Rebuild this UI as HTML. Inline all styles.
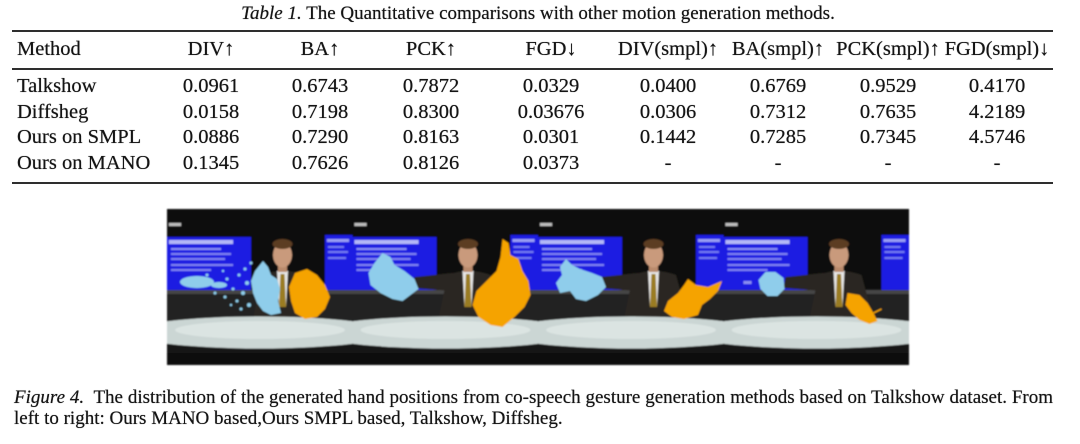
<!DOCTYPE html>
<html><head><meta charset="utf-8">
<style>
html,body{margin:0;padding:0;background:#fff;}
body{width:1080px;height:444px;overflow:hidden;position:relative;font-family:"Liberation Serif","DejaVu Serif",serif;color:#141414;}
.t{position:absolute;white-space:nowrap;}
.title{left:0;width:1076px;top:3px;text-align:center;font-size:19px;line-height:22px;text-shadow:0 0 0.6px #333;}
.rule{position:absolute;left:12px;width:1041px;background:#2e2e2e;}
.row{position:absolute;left:0;width:1080px;height:26px;font-size:20.5px;line-height:26px;text-shadow:0 0 0.6px #333;}
.row span{position:absolute;top:0;width:130px;text-align:center;white-space:nowrap;}
.row span.m{left:17px;width:200px;text-align:left;}
.c1{left:146px}.c2{left:255px}.c3{left:366px}.c4{left:486px}
.c5{left:603px}.c6{left:713px}.c7{left:823px}.c8{left:932px}
.cap{position:absolute;left:14px;width:1039px;font-size:19px;line-height:21px;white-space:nowrap;text-shadow:0 0 0.6px #333;}
.l1{top:387px;text-align:justify;text-align-last:justify;}
.l2{top:408px;}
svg{position:absolute;left:0;top:0;}
</style></head><body>
<div class="t title"><i>Table 1.</i> The Quantitative comparisons with other motion generation methods.</div>
<div class="rule" style="top:30px;height:2px;"></div>
<div class="row" style="top:36px;"><span class="m">Method</span><span class="c1">DIV↑</span><span class="c2">BA↑</span><span class="c3">PCK↑</span><span class="c4">FGD↓</span><span class="c5">DIV(smpl)↑</span><span class="c6">BA(smpl)↑</span><span class="c7">PCK(smpl)↑</span><span class="c8">FGD(smpl)↓</span></div>
<div class="rule" style="top:68px;height:1.5px;"></div>
<div class="row" style="top:73px;"><span class="m">Talkshow</span><span class="c1">0.0961</span><span class="c2">0.6743</span><span class="c3">0.7872</span><span class="c4">0.0329</span><span class="c5">0.0400</span><span class="c6">0.6769</span><span class="c7">0.9529</span><span class="c8">0.4170</span></div>
<div class="row" style="top:98.5px;"><span class="m">Diffsheg</span><span class="c1">0.0158</span><span class="c2">0.7198</span><span class="c3">0.8300</span><span class="c4">0.03676</span><span class="c5">0.0306</span><span class="c6">0.7312</span><span class="c7">0.7635</span><span class="c8">4.2189</span></div>
<div class="row" style="top:124px;"><span class="m">Ours on SMPL</span><span class="c1">0.0886</span><span class="c2">0.7290</span><span class="c3">0.8163</span><span class="c4">0.0301</span><span class="c5">0.1442</span><span class="c6">0.7285</span><span class="c7">0.7345</span><span class="c8">4.5746</span></div>
<div class="row" style="top:150px;"><span class="m">Ours on MANO</span><span class="c1">0.1345</span><span class="c2">0.7626</span><span class="c3">0.8126</span><span class="c4">0.0373</span><span class="c5">-</span><span class="c6">-</span><span class="c7">-</span><span class="c8">-</span></div>
<div class="rule" style="top:182px;height:2px;"></div>

<svg width="1080" height="444" viewBox="0 0 1080 444">
<defs>
<filter id="bl" x="-5%" y="-5%" width="110%" height="110%"><feGaussianBlur stdDeviation="0.7"/></filter>
<clipPath id="pc"><rect x="0" y="0" width="185.5" height="156"/></clipPath>
<g id="bg">
<rect width="186" height="156" fill="#070707"/>
<rect x="2" y="14" width="12" height="3" fill="#bdbdbd"/>
<rect x="0" y="28" width="84" height="56" fill="#1d1fe2"/>
<rect x="2" y="31" width="64" height="4" fill="#c4c8fa" opacity=".9"/>
<rect x="4" y="39" width="50" height="2" fill="#a8adf7" opacity=".8"/>
<rect x="4" y="44" width="60" height="2" fill="#a8adf7" opacity=".7"/>
<rect x="4" y="49" width="54" height="2" fill="#a8adf7" opacity=".7"/>
<rect x="4" y="55" width="62" height="2" fill="#a8adf7" opacity=".7"/>
<rect x="4" y="60" width="40" height="2" fill="#a8adf7" opacity=".7"/>
<rect x="20" y="72" width="8" height="3" fill="#b9bdf7" opacity=".7"/>
<rect x="158" y="26" width="28" height="56" fill="#1d1fe2"/>
<rect x="160" y="30" width="22" height="3" fill="#b9bdf7" opacity=".8"/>
<rect x="161" y="37" width="16" height="2" fill="#9aa0f5" opacity=".7"/>
<rect x="161" y="42" width="20" height="2" fill="#9aa0f5" opacity=".7"/>
<rect x="161" y="48" width="18" height="2" fill="#9aa0f5" opacity=".7"/>
<rect x="0" y="81" width="186" height="30" fill="#202020"/>
<rect x="0" y="81" width="186" height="4" fill="#454545"/>
<path d="M95,66 Q116,58 138,66 L150,110 L86,110 Z" fill="#2c2622"/>
<polygon points="110,62 121,62 119,98 112,98" fill="#e6e6e6"/>
<polygon points="113.5,65 117.5,65 119,98 112,98" fill="#9a7b22"/>
<rect x="111" y="54" width="9" height="9" fill="#b98a6c"/>
<ellipse cx="115.5" cy="46" rx="9.5" ry="12.5" fill="#c99a7c"/>
<ellipse cx="115.5" cy="35" rx="10" ry="5" fill="#5b3c24"/>
<rect x="0" y="124" width="186" height="20" fill="#161616"/>
<ellipse cx="93" cy="123.5" rx="130" ry="16" fill="#cbd6d4"/>
<ellipse cx="93" cy="121" rx="85" ry="9" fill="#dfe7e5" opacity=".8"/>
<rect x="0" y="144" width="186" height="12" fill="#0a0a0a"/>
</g>
<g id="arm">
<path d="M100,64 L62,68 L60,79 L100,82 Z" fill="#2c2622"/>
</g>
</defs>

<g filter="url(#bl)">
<!-- Panel 1 -->
<g transform="translate(167,209)" clip-path="url(#pc)">
<use href="#bg"/>
<g fill="#8fcdeb">
<path d="M96,52 L101,58 L104,66 L110,70 L113,80 L111,92 L114,104 L104,106 L96,102 L90,94 L86,84 L84,72 L88,62 Z"/>
<ellipse cx="30" cy="73" rx="17" ry="6"/>
<ellipse cx="52" cy="76" rx="8" ry="3"/>
<circle cx="60" cy="70" r="1.5"/><circle cx="66" cy="80" r="1.5"/><circle cx="72" cy="66" r="1.5"/>
<circle cx="58" cy="88" r="1.5"/><circle cx="70" cy="92" r="1.5"/><circle cx="76" cy="84" r="2"/>
<circle cx="48" cy="84" r="1.5"/><circle cx="80" cy="74" r="2"/><circle cx="64" cy="96" r="1.2"/>
<circle cx="78" cy="60" r="1.5"/><circle cx="84" cy="54" r="1.5"/><circle cx="40" cy="66" r="1.5"/>
<circle cx="82" cy="96" r="2"/><circle cx="74" cy="100" r="1.5"/><circle cx="56" cy="62" r="1.2"/>
</g>
<path fill="#f5a300" d="M128,64 L140,60 L150,66 L158,76 L163,88 L158,100 L150,108 L138,110 L128,104 L124,92 L122,78 Z"/>
</g>
<!-- Panel 2 -->
<g transform="translate(352.5,209)" clip-path="url(#pc)">
<use href="#bg"/><use href="#arm"/>
<path fill="#8fcdeb" d="M30,44 L38,48 L42,56 L52,62 L62,70 L66,80 L58,86 L50,92 L40,90 L28,84 L18,76 L16,64 L22,54 Z"/>
<path fill="#f5a300" d="M150,30 L156,34 L158,46 L166,50 L170,62 L176,72 L178,86 L172,98 L162,108 L150,118 L138,116 L126,108 L120,96 L124,82 L134,72 L144,62 L148,48 Z"/>
</g>
<!-- Panel 3 -->
<g transform="translate(538,209)" clip-path="url(#pc)">
<use href="#bg"/><use href="#arm"/>
<path fill="#8fcdeb" d="M28,50 L34,56 L42,60 L54,64 L64,68 L68,78 L60,86 L48,92 L38,90 L32,82 L22,84 L18,74 L24,66 L22,58 Z"/>
<path fill="#f5a300" d="M150,70 L158,76 L170,78 L184,72 L180,82 L172,90 L164,96 L160,106 L146,110 L134,108 L126,102 L130,92 L140,84 L146,76 Z"/>
</g>
<!-- Panel 4 -->
<g transform="translate(723.5,209)" clip-path="url(#pc)">
<use href="#bg"/><use href="#arm"/>
<path fill="#8fcdeb" d="M42,63 L52,63 L60,69 L61,80 L54,87 L44,87 L37,80 L35,71 Z"/>
<path fill="#f5a300" d="M124,84 L136,86 L144,94 L150,104 L154,112 L146,115 L136,111 L128,104 L122,96 Z"/>
<path d="M150,104 L158,100" stroke="#f5a300" stroke-width="1.5"/>
</g>
</g>
</svg>

<div class="cap l1"><i>Figure 4.</i>&nbsp; The distribution of the generated hand positions from co-speech gesture generation methods based on Talkshow dataset. From</div>
<div class="cap l2">left to right: Ours MANO based,Ours SMPL based, Talkshow, Diffsheg.</div>
</body></html>
